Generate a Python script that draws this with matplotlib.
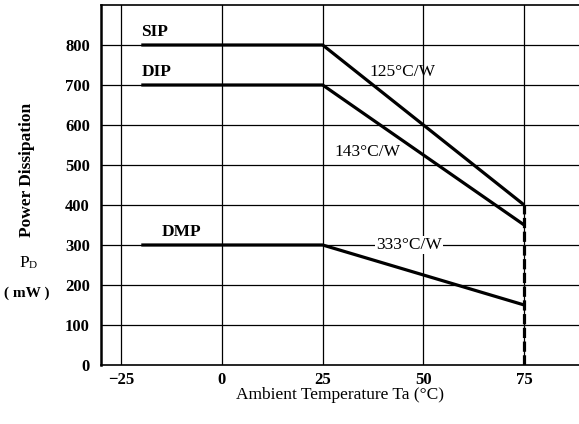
import matplotlib
matplotlib.use('Agg')
import matplotlib.pyplot as plt

# ==============================
# Data
# ==============================
temp = [-20, 25, 75]
sip = [800, 800, 400]
dip = [700, 700, 350]
dmp = [300, 300, 150]

x_ticks = [-25, 0, 25, 50, 75]
x_tick_labels = ['\u221225', '0', '25', '50', '75']
y_ticks = [0, 100, 200, 300, 400, 500, 600, 700, 800]

plt.rcParams['font.family'] = ['Liberation Serif', 'DejaVu Serif']

fig = plt.figure(figsize=(5.79, 4.24), dpi=100)
ax = fig.add_axes([0.1744, 0.1392, 0.8256, 0.849])

ax.set_xlim(-30, 88.6)
ax.set_ylim(0, 900)

# grid
for xv in x_ticks:
    ax.axvline(xv, color='black', lw=0.9, zorder=1)
for yv in y_ticks[1:]:
    ax.axhline(yv, color='black', lw=0.9, zorder=1)

# curves
for yv in (sip, dip, dmp):
    ax.plot(temp, yv, color='black', lw=2.3, solid_capstyle='butt', zorder=3)
ax.plot([75, 75], [0, sip[-1]], color='black', lw=2.3, ls=(0, (3.2, 1.1)), zorder=3)

# labels on the curves
ax.text(-20, 812, 'SIP', fontsize=12.5, fontweight='bold', ha='left', va='bottom')
ax.text(-20, 712, 'DIP', fontsize=12.5, fontweight='bold', ha='left', va='bottom')
ax.text(-15, 312, 'DMP', fontsize=12.5, fontweight='bold', ha='left', va='bottom')
ax.text(36.5, 732, '125\u00b0C/W', fontsize=12.5, ha='left', va='center')
ax.text(28.0, 532, '143\u00b0C/W', fontsize=12.5, ha='left', va='center')
ax.text(38.3, 300, '333\u00b0C/W', fontsize=12.5, ha='left', va='center', zorder=4,
        bbox=dict(facecolor='white', edgecolor='none', pad=1))

ax.set_xticks(x_ticks)
ax.set_xticklabels(x_tick_labels)
ax.set_yticks(y_ticks)
ax.tick_params(length=0, labelsize=12, pad=5)
ax.tick_params(axis='y', pad=8)
for lab in ax.get_xticklabels() + ax.get_yticklabels():
    lab.set_fontweight('bold')

ax.spines['right'].set_visible(False)
ax.spines['left'].set_linewidth(1.8)
ax.spines['bottom'].set_linewidth(1.2)
ax.spines['top'].set_linewidth(1.2)

fig.text(0.587, 1 - 395 / 424, 'Ambient Temperature Ta (\u00b0C)', fontsize=12.5,
         ha='center', va='center')
fig.text(27 / 579, 1 - 170 / 424, 'Power Dissipation', fontsize=12.5, fontweight='bold',
         rotation=90, ha='center', va='center')
fig.text(29 / 579, 1 - 263 / 424, 'P', fontsize=12.5, ha='right', va='center')
fig.text(29 / 579, 1 - 265 / 424, 'D', fontsize=8, ha='left', va='center')
fig.text(27 / 579, 1 - 293 / 424, '( mW )', fontsize=11, fontweight='bold', ha='center', va='center')

fig.savefig('out.png', dpi=100)
